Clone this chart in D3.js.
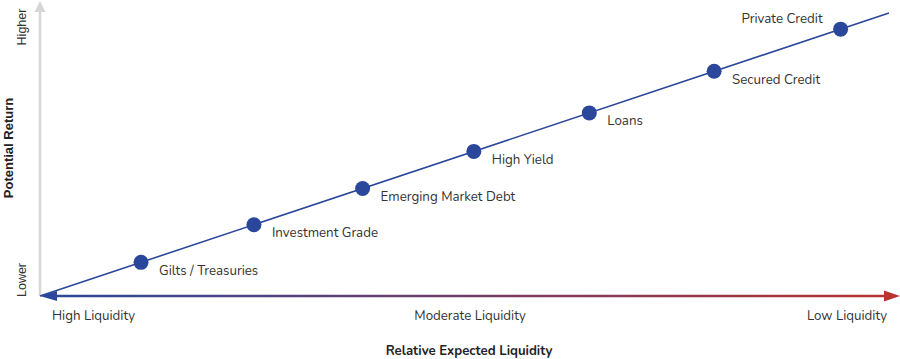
<!DOCTYPE html>
<html><head><meta charset="utf-8">
<script src="https://cdn.jsdelivr.net/npm/d3@7"></script>
<style>body{margin:0;background:#fff}svg{display:block}</style>
</head><body>
<svg id="c" width="900" height="359"></svg>
<script>
const categories = ["Gilts / Treasuries","Investment Grade","Emerging Market Debt","High Yield","Loans","Secured Credit","Private Credit"];
const liquidityValues = [1.19, 2.52, 3.80, 5.11, 6.47, 7.94, 9.43];
const returnValues = [1.19, 2.52, 3.80, 5.11, 6.47, 7.94, 9.43];
const xTickLabels = ["High Liquidity","Moderate Liquidity","Low Liquidity"];
const yTickLabels = ["Lower","Higher"];
const xTitle = "Relative Expected Liquidity";
const yTitle = "Potential Return";

const svg = d3.select("#c");
const font = "Nunito, Lato, 'Open Sans', sans-serif";
const fs = 13.3;
const x = d3.scaleLinear().domain([0,10]).range([40,889]);
const y = d3.scaleLinear().domain([0,10]).range([296,13]);
const blue = "#2b479b", red = "#b83330";

const defs = svg.append("defs");
const g = defs.append("linearGradient").attr("id","hg").attr("gradientUnits","userSpaceOnUse")
  .attr("x1",40).attr("x2",900).attr("y1",0).attr("y2",0);
g.append("stop").attr("offset","0%").attr("stop-color",blue);
g.append("stop").attr("offset","100%").attr("stop-color",red);

// vertical axis (gray)
svg.append("line").attr("x1",40).attr("x2",40).attr("y1",y(0)).attr("y2",10)
  .attr("stroke","#d6d6d6").attr("stroke-width",2.5);
svg.append("path").attr("d","M40,1 L45.5,12 L34.5,12 Z").attr("fill","#d6d6d6");

// horizontal axis
svg.append("line").attr("x1",52).attr("x2",888).attr("y1",y(0)).attr("y2",y(0))
  .attr("stroke","url(#hg)").attr("stroke-width",2.5);
svg.append("path").attr("d",`M40,${y(0)} L57,${y(0)-5} L57,${y(0)+5} Z`).attr("fill",blue);
svg.append("path").attr("d",`M900,${y(0)} L884,${y(0)-5.5} L884,${y(0)+5.5} Z`).attr("fill",red);

// diagonal line
svg.append("line").attr("x1",x(0)).attr("y1",y(0)).attr("x2",x(10)).attr("y2",y(10))
  .attr("stroke",blue).attr("stroke-width",1.6);

// points
svg.selectAll("circle.p").data(categories).join("circle")
  .attr("cx",(d,i)=>x(liquidityValues[i])).attr("cy",(d,i)=>y(returnValues[i]))
  .attr("r",7.5).attr("fill",blue);

// labels
svg.selectAll("text.lab").data(categories).join("text")
  .attr("x",(d,i)=> i===categories.length-1 ? x(liquidityValues[i])-18 : x(liquidityValues[i])+18)
  .attr("y",(d,i)=> i===categories.length-1 ? y(returnValues[i])-10 : y(returnValues[i])+8.5)
  .attr("text-anchor",(d,i)=> i===categories.length-1 ? "end":"start")
  .attr("dominant-baseline","central")
  .attr("font-family",font).attr("font-size",fs).attr("fill","#333")
  .text(d=>d);

// x tick labels
const xt = [{t:xTickLabels[0],x:52,a:"start"},{t:xTickLabels[1],x:470,a:"middle"},{t:xTickLabels[2],x:887,a:"end"}];
svg.selectAll("text.xt").data(xt).join("text")
  .attr("x",d=>d.x).attr("y",315.5).attr("text-anchor",d=>d.a).attr("dominant-baseline","central")
  .attr("font-family",font).attr("font-size",fs).attr("fill","#333").text(d=>d.t);

// y tick labels
const yt = [{t:yTickLabels[0],cy:280},{t:yTickLabels[1],cy:27}];
svg.selectAll("text.yt").data(yt).join("text")
  .attr("transform",d=>`translate(22,${d.cy}) rotate(-90)`)
  .attr("text-anchor","middle").attr("dominant-baseline","central")
  .attr("font-family","'Liberation Sans', Arial, sans-serif").attr("font-size",12.5).attr("fill","#333").text(d=>d.t);

// titles
svg.append("text").attr("x",469).attr("y",351).attr("text-anchor","middle").attr("dominant-baseline","central")
  .attr("font-family",font).attr("font-size",13.2).attr("font-weight","bold").attr("fill","#222").text(xTitle);
svg.append("text").attr("transform","translate(8,148) rotate(-90)").attr("text-anchor","middle").attr("dominant-baseline","central")
  .attr("font-family","'Liberation Sans', Arial, sans-serif").attr("font-size",13).attr("font-weight","bold").attr("fill","#222").text(yTitle);
</script>
</body></html>
